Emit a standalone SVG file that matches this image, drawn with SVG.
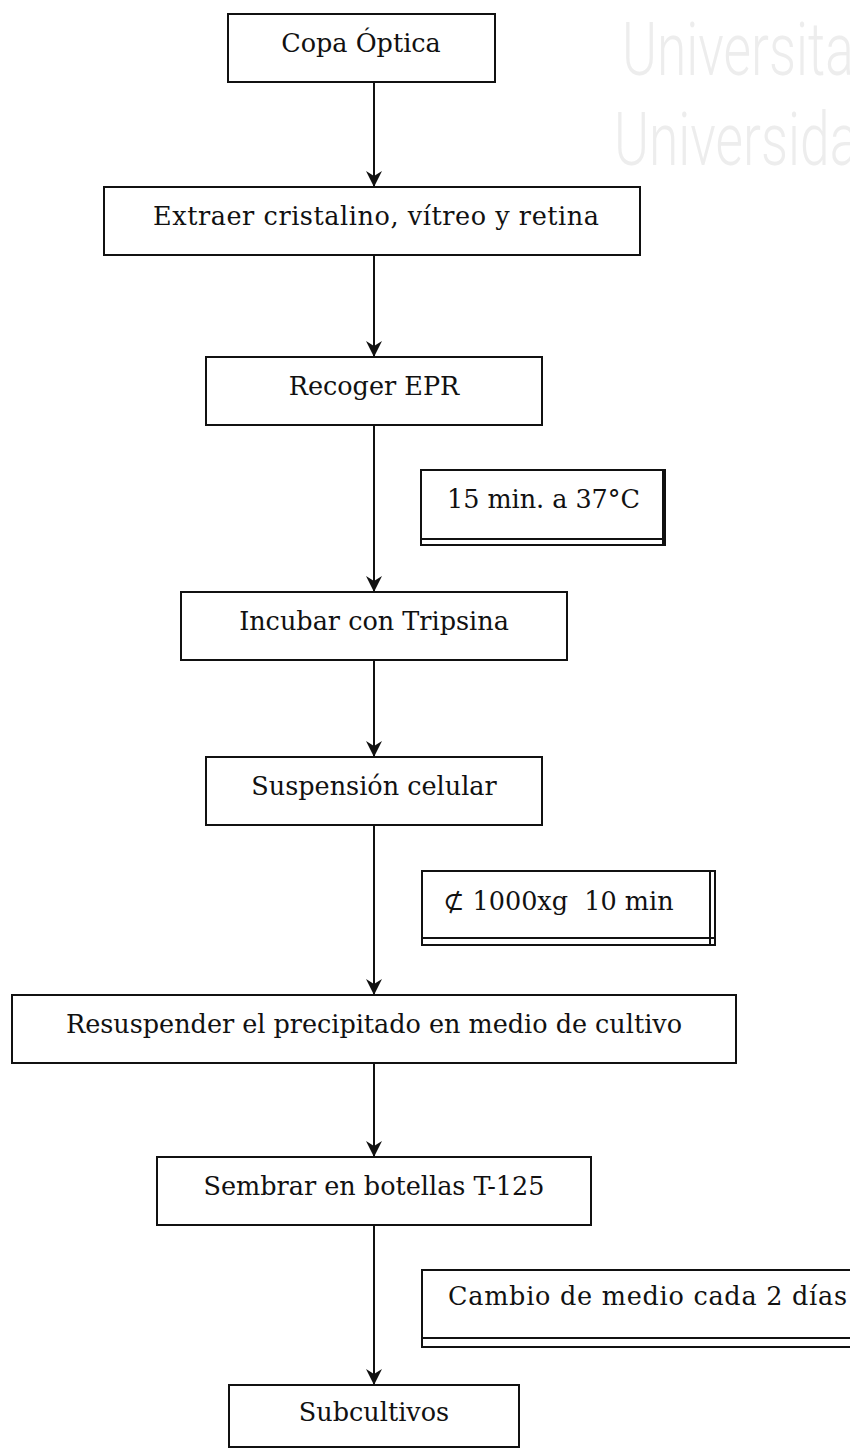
<svg xmlns="http://www.w3.org/2000/svg" width="850" height="1450" viewBox="0 0 850 1450">
<defs>
<style>
.box{fill:#fff;stroke:#111;stroke-width:2}
.ln{fill:none;stroke:#111;stroke-width:2}
.t{font-family:"DejaVu Serif","Liberation Serif",serif;font-size:25.5px;fill:#111}
.c{text-anchor:middle}
.wm{font-family:Roboto,"Liberation Sans",sans-serif;font-weight:300;font-size:74px;fill:#ededed}
</style>
<marker id="ah" viewBox="0 0 16 16" refX="16" refY="8" markerWidth="16" markerHeight="16" markerUnits="userSpaceOnUse" orient="auto">
<path d="M0,0 L16,8 L0,16 L5,8 Z" fill="#111"/>
</marker>
</defs>
<rect width="850" height="1450" fill="#fff"/>
<g id="watermark">
<text class="wm" transform="translate(622,75) scale(0.72,1)">Universitat</text>
<text class="wm" transform="translate(614,165) scale(0.72,1)">Universidad</text>
</g>
<g id="connectors">
<line class="ln" x1="374" y1="82" x2="374" y2="187" marker-end="url(#ah)"/>
<line class="ln" x1="374" y1="255" x2="374" y2="357" marker-end="url(#ah)"/>
<line class="ln" x1="374" y1="425" x2="374" y2="592" marker-end="url(#ah)"/>
<line class="ln" x1="374" y1="660" x2="374" y2="757" marker-end="url(#ah)"/>
<line class="ln" x1="374" y1="825" x2="374" y2="995" marker-end="url(#ah)"/>
<line class="ln" x1="374" y1="1063" x2="374" y2="1157" marker-end="url(#ah)"/>
<line class="ln" x1="374" y1="1225" x2="374" y2="1385" marker-end="url(#ah)"/>
</g>
<g id="copa">
<rect class="box" x="228" y="14" width="267" height="68"/>
<text class="t c" x="361" y="52">Copa Óptica</text>
</g>
<g id="extraer">
<rect class="box" x="104" y="187" width="536" height="68"/>
<text class="t c" x="376" y="225" textLength="446">Extraer cristalino, vítreo y retina</text>
</g>
<g id="recoger">
<rect class="box" x="206" y="357" width="336" height="68"/>
<text class="t c" x="374" y="395">Recoger EPR</text>
</g>
<g id="tripsina-cond">
<rect class="box" x="421" y="470" width="244" height="75"/>
<line class="ln" x1="421" y1="539" x2="665" y2="539"/>
<line x1="664" y1="470" x2="664" y2="545" stroke="#111" stroke-width="4"/>
<text class="t" x="447" y="508" textLength="193">15 min. a 37°C</text>
</g>
<g id="incubar">
<rect class="box" x="181" y="592" width="386" height="68"/>
<text class="t c" x="374" y="630">Incubar con Tripsina</text>
</g>
<g id="suspension">
<rect class="box" x="206" y="757" width="336" height="68"/>
<text class="t c" x="374" y="795">Suspensión celular</text>
</g>
<g id="centrifuga">
<rect class="box" x="422" y="871" width="293" height="74"/>
<line class="ln" x1="710" y1="871" x2="710" y2="945"/>
<line class="ln" x1="422" y1="938" x2="715" y2="938"/>
<text class="t" x="443" y="910" xml:space="preserve">⊄ 1000xg  10 min</text>
</g>
<g id="resuspender">
<rect class="box" x="12" y="995" width="724" height="68"/>
<text class="t c" x="374" y="1033" textLength="616">Resuspender el precipitado en medio de cultivo</text>
</g>
<g id="sembrar">
<rect class="box" x="157" y="1157" width="434" height="68"/>
<text class="t c" x="374" y="1195">Sembrar en botellas T-125</text>
</g>
<g id="cambio">
<rect class="box" x="422" y="1270" width="440" height="77"/>
<line class="ln" x1="422" y1="1338" x2="850" y2="1338"/>
<text class="t" x="448" y="1305" textLength="399">Cambio de medio cada 2 días</text>
</g>
<g id="subcultivos">
<rect class="box" x="229" y="1385" width="290" height="62"/>
<text class="t c" x="374" y="1421">Subcultivos</text>
</g>
</svg>
